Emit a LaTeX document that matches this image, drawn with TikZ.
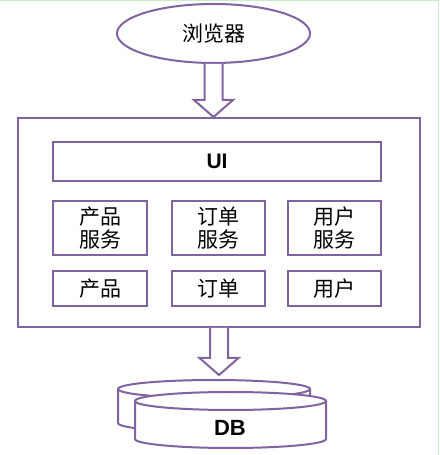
\documentclass[tikz,border=0pt]{standalone}
\usepackage{fontspec}
\setmainfont{Liberation Sans}
\newfontfamily\cjk{Noto Sans CJK SC}
\usetikzlibrary{shapes.geometric, calc}
\definecolor{boxpurple}{RGB}{128,100,162}
\definecolor{edgegreen}{RGB}{204,234,204}

\newcommand{\blockarrow}[2]{%
  \draw[bigarrow] let \p1=(#1), \p2=(#2) in
    (\x1-9,\y1) -- (\x1-9,\y2+17) -- (\x1-19.5,\y2+17) -- (\x1,\y2)
    -- (\x1+19.5,\y2+17) -- (\x1+9,\y2+17) -- (\x1+9,\y1);}

\begin{document}
\begin{tikzpicture}[x=1pt, y=1pt,
    box/.style={draw=boxpurple, line width=2pt, fill=white, inner sep=0pt,
      font=\cjk\fontsize{21}{25}\selectfont, align=center},
    bigarrow/.style={draw=boxpurple, line width=2pt, fill=white, line join=miter},
    boldtext/.style={font=\bfseries\fontsize{21}{25}\selectfont}]
          \useasboundingbox (0,0) rectangle (439,455);
          \draw[edgegreen, line width=1pt] (0,454.5) -- (438.5,454.5) -- (438.5,0);

          \node[box, ellipse, minimum width=193pt, minimum height=59pt] (browser) at (213.5,421.5) {浏览器};
          \node[box, minimum width=402pt, minimum height=209pt] (app) at (219,232.5) {};

          \node[box, boldtext, minimum width=328pt, minimum height=39pt] (ui) at (217,293.5) {UI};

          \node[box, minimum width=94pt, minimum height=54pt] (prodsvc) at (100,227) {产品\\[-2pt]服务};
          \node[box, minimum width=93pt, minimum height=54pt] (ordersvc) at (218,227) {订单\\[-2pt]服务};
          \node[box, minimum width=93pt, minimum height=54pt] (usersvc) at (334.5,227) {用户\\[-2pt]服务};

          \node[box, minimum width=94pt, minimum height=35pt] (prod) at (100,166.5) {产品};
          \node[box, minimum width=93pt, minimum height=35pt] (order) at (218,166.5) {订单};
          \node[box, minimum width=93pt, minimum height=35pt] (user) at (334.5,166.5) {用户};

          \draw[bigarrow] (118,66) -- (118,32) arc[start angle=180, end angle=360, x radius=96, y radius=9] -- (310,66);
          \draw[bigarrow] (214,66) ellipse [x radius=96, y radius=9];
          \draw[bigarrow] (135,54) -- (135,16) arc[start angle=180, end angle=360, x radius=95.5, y radius=9] -- (326,54);
          \draw[bigarrow] (230.5,54) ellipse [x radius=95.5, y radius=9];
          \node[boldtext, font=\bfseries\fontsize{22}{26}\selectfont] (db) at (230,27) {DB};
          \coordinate (dbtop) at (219,80);

          \blockarrow{browser.south}{app.north}
          \blockarrow{app.south}{dbtop}
        \end{tikzpicture}
\end{document}
